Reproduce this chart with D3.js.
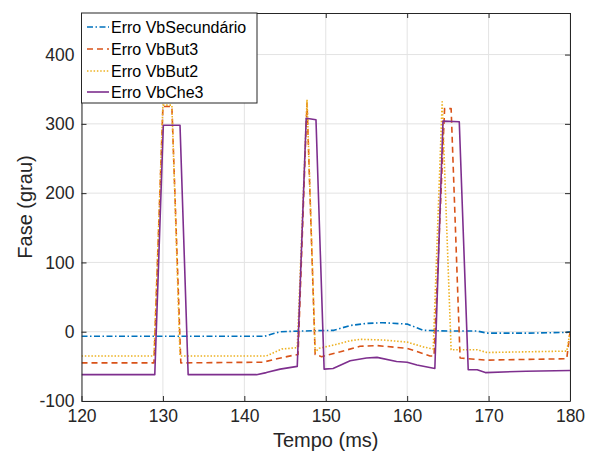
<!DOCTYPE html>
<html>
<head>
<meta charset="utf-8">
<script src="https://cdn.jsdelivr.net/npm/d3@7"></script>
<style>
  html, body { margin: 0; padding: 0; background: #fff; }
  svg { display: block; font-family: "Liberation Sans", Arial, Helvetica, sans-serif; }
</style>
</head>
<body>
<svg id="chart" width="595" height="462"></svg>
<script>
// ---- data ----
const xTicks = [120, 130, 140, 150, 160, 170, 180];
const yTicks = [-100, 0, 100, 200, 300, 400];
const seriesNames = ["Erro VbSecundário", "Erro VbBut3", "Erro VbBut2", "Erro VbChe3"];

const tSec = [120, 142.5, 143.5, 144.4, 147, 151, 153, 155, 157, 160, 162, 165, 168.6, 169.8, 175, 179.6, 180];
const vSec = [-6.5, -6.5, -3, 0, 1, 2, 9, 12, 13, 11, 2, 1, 1, -2, -2, -1, 0];

const tBut3 = [120, 128.9, 130.0, 131.1, 132.2, 142.3, 144, 146, 146.6, 147.7, 148.7, 149.5, 151.8, 154.2, 156.3, 160, 162.8, 163.3, 164.6, 165.4, 166.5, 168.6, 169.8, 179.6, 180];
const vBut3 = [-45, -45, 325, 325, -45, -44, -39, -34, -33, 330, -33, -36, -29, -21, -20, -24, -35, -35, 322, 322, -38, -40, -41, -39, -1];

const tBut2 = [120, 128.9, 130.0, 131.1, 132.1, 142.7, 144.6, 146.5, 147.7, 148.7, 149.2, 151.4, 153, 154.2, 157.1, 160, 162, 163.2, 164.3, 165.4, 168.6, 169.8, 179.6, 180];
const vBut2 = [-35, -35, 327, 327, -35, -35, -25, -23, 335, -29, -24, -18, -13, -11, -12, -15, -22, -25, 332, -26, -26, -30, -28, -1];

const tChe3 = [120, 129.0, 130.05, 132.1, 133.1, 141.5, 142.7, 144.4, 146.5, 147.6, 148.8, 149.8, 150.9, 153, 155, 156.3, 158.7, 160, 161.2, 163.4, 164.4, 166.4, 167.5, 168.6, 169.6, 174.6, 180];
const vChe3 = [-62, -62, 298, 298, -62, -62, -59, -54, -50, 308, 306, -54, -53, -42, -38, -37, -43, -44, -48, -53, 304, 303, -55, -55, -59, -57, -56];

// ---- layout ----
const svg = d3.select("#chart");
const L = 81.5, R = 570, T = 13, B = 401;
const x = d3.scaleLinear().domain([120, 180]).range([L, R]);
const y = d3.scaleLinear().domain([-100, 460]).range([B, T]);
const axisColor = "#262626";

const series = [
  { name: seriesNames[0], t: tSec, v: vSec, color: "#0072BD", dash: "6,2.5,1.5,2.5" },
  { name: seriesNames[1], t: tBut3, v: vBut3, color: "#D95319", dash: "6,4" },
  { name: seriesNames[2], t: tBut2, v: vBut2, color: "#EDB120", dash: "1.5,1.8" },
  { name: seriesNames[3], t: tChe3, v: vChe3, color: "#7E2F8E", dash: null }
];

// grid
const grid = svg.append("g");
grid.selectAll("line.gx").data(xTicks).enter().append("line")
  .attr("x1", d => x(d)).attr("x2", d => x(d)).attr("y1", T).attr("y2", B)
  .attr("stroke", "#e3e3e3").attr("stroke-width", 1);
grid.selectAll("line.gy").data(yTicks).enter().append("line")
  .attr("x1", L).attr("x2", R).attr("y1", d => y(d)).attr("y2", d => y(d))
  .attr("stroke", "#e3e3e3").attr("stroke-width", 1);

// clip
svg.append("clipPath").attr("id", "clip").append("rect")
  .attr("x", L).attr("y", T).attr("width", R - L).attr("height", B - T);

const line = d3.line().x(d => x(d[0])).y(d => y(d[1]));
const lines = svg.append("g").attr("clip-path", "url(#clip)");
series.forEach(s => {
  const pts = s.t.map((t, i) => [t, s.v[i]]);
  lines.append("path").datum(pts)
    .attr("d", line)
    .attr("fill", "none")
    .attr("stroke", s.color)
    .attr("stroke-width", 1.6)
    .attr("stroke-linejoin", "round")
    .attr("stroke-dasharray", s.dash);
});

// axes (ticks inside, box on)
const tickLen = 5;
const fmt = d => String(d);
const axB = svg.append("g").attr("transform", `translate(0,${B})`)
  .call(d3.axisBottom(x).tickValues(xTicks).tickSizeInner(-tickLen).tickSizeOuter(0).tickPadding(9).tickFormat(fmt));
const axT = svg.append("g").attr("transform", `translate(0,${T})`)
  .call(d3.axisTop(x).tickValues(xTicks).tickSizeInner(-tickLen).tickSizeOuter(0).tickFormat(""));
const axL = svg.append("g").attr("transform", `translate(${L},0)`)
  .call(d3.axisLeft(y).tickValues(yTicks).tickSizeInner(-tickLen).tickSizeOuter(0).tickPadding(7).tickFormat(fmt));
const axR = svg.append("g").attr("transform", `translate(${R},0)`)
  .call(d3.axisRight(y).tickValues(yTicks).tickSizeInner(-tickLen).tickSizeOuter(0).tickFormat(""));
[axB, axT, axL, axR].forEach(a => {
  a.select(".domain").attr("stroke", axisColor).attr("stroke-width", 1);
  a.selectAll(".tick line").attr("stroke", axisColor).attr("stroke-width", 1);
  a.selectAll(".tick text").attr("fill", axisColor).attr("font-size", "17.5px")
    .attr("font-family", "Liberation Sans, Arial, sans-serif");
});

// axis labels
svg.append("text").attr("x", (L + R) / 2).attr("y", 447)
  .attr("text-anchor", "middle").attr("font-size", "20px").attr("fill", axisColor)
  .text("Tempo (ms)");
svg.append("text").attr("transform", `translate(32,${(T + B) / 2}) rotate(-90)`)
  .attr("text-anchor", "middle").attr("font-size", "20px").attr("fill", axisColor)
  .text("Fase (grau)");

// legend
const lg = svg.append("g");
lg.append("rect").attr("x", L).attr("y", T).attr("width", 257 - L).attr("height", 103 - T)
  .attr("fill", "#fff").attr("stroke", axisColor).attr("stroke-width", 1);
const rowY = [27, 49, 71, 92];
series.forEach((s, i) => {
  lg.append("line").attr("x1", 87).attr("x2", 109).attr("y1", rowY[i]).attr("y2", rowY[i])
    .attr("stroke", s.color).attr("stroke-width", 1.6).attr("stroke-dasharray", s.dash);
  lg.append("text").attr("x", 111).attr("y", rowY[i]).attr("dy", "0.35em")
    .attr("font-size", "16px").attr("fill", "#000").text(s.name);
});
</script>
</body>
</html>
